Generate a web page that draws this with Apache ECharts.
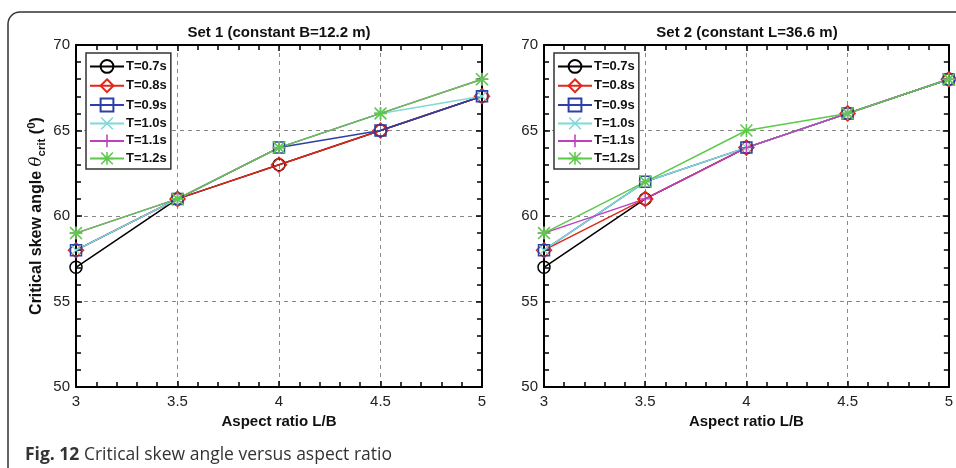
<!DOCTYPE html>
<html>
<head>
<meta charset="utf-8">
<script src="https://cdn.jsdelivr.net/npm/echarts@6/dist/echarts.min.js"></script>
<style>
  html, body { margin: 0; padding: 0; background: #fff; }
  #main { width: 956px; height: 468px; }
</style>
</head>
<body>
<div id="main"></div>
<script>
const aspect = [3, 3.5, 4, 4.5, 5];
const names = ["T=0.7s", "T=0.8s", "T=0.9s", "T=1.0s", "T=1.1s", "T=1.2s"];

// Set 1 (constant B=12.2 m)
const set1 = {
  "T=0.7s": [57, 61, 63, 65, 67],
  "T=0.8s": [58, 61, 63, 65, 67],
  "T=0.9s": [58, 61, 64, 65, 67],
  "T=1.0s": [58, 61, 64, 66, 67],
  "T=1.1s": [59, 61, 64, 66, 68],
  "T=1.2s": [59, 61, 64, 66, 68],
};
// Set 2 (constant L=36.6 m)
const set2 = {
  "T=0.7s": [57, 61, 64, 66, 68],
  "T=0.8s": [58, 61, 64, 66, 68],
  "T=0.9s": [58, 62, 64, 66, 68],
  "T=1.0s": [58, 62, 64, 66, 68],
  "T=1.1s": [59, 61, 64, 66, 68],
  "T=1.2s": [59, 62, 65, 66, 68],
};

const colors = ["#000000", "#e2261a", "#2e3fa6", "#7fd9d6", "#bf3fbf", "#5ec84c"];

// marker shapes (matlab style o, d, s, x, +, *)
const plusPath = "M8.8,0H11.2V8.8H20V11.2H11.2V20H8.8V11.2H0V8.8H8.8Z";
const crossPath = "M1.7,0L10,8.3L18.3,0L20,1.7L11.7,10L20,18.3L18.3,20L10,11.7L1.7,20L0,18.3L8.3,10L0,1.7Z";
const markers = [
  { symbol: "circle", size: 12, hollow: true },
  { symbol: "diamond", size: 15, hollow: true },
  { symbol: "rect", size: 11, hollow: true },
  { symbol: "path://" + crossPath, size: 10, hollow: false },
  { symbol: "path://" + plusPath, size: 12, hollow: false },
  { symbol: "path://" + plusPath + crossPath, size: 13, hollow: false },
];

const font = "Liberation Sans";

function makeSeries(set, gi) {
  return names.map((n, i) => {
    const m = markers[i];
    return {
      name: n,
      type: "line",
      xAxisIndex: gi * 2,
      yAxisIndex: gi * 2,
      data: aspect.map((x, k) => [x, set[n][k]]),
      symbol: m.symbol,
      symbolSize: m.size,
      showAllSymbol: true,
      lineStyle: { color: colors[i], width: 1.5 },
      itemStyle: m.hollow
        ? { color: "rgba(0,0,0,0)", borderColor: colors[i], borderWidth: 1.5 }
        : { color: colors[i], borderWidth: 0 },
      emphasis: { disabled: true },
      animation: false,
    };
  });
}

function mainX(gi) {
  return {
    type: "value", gridIndex: gi, min: 3, max: 5, interval: 0.5,
    position: "bottom",
    axisLine: { lineStyle: { color: "#000", width: 2 } },
    axisTick: { inside: true, length: 6, lineStyle: { color: "#000", width: 1.5 } },
    minorTick: { show: true, splitNumber: 5, length: 5, lineStyle: { color: "#000", width: 1.5 } },
    axisLabel: { color: "#222", fontSize: 15, fontFamily: font, margin: 7,
      formatter: v => String(v) },
    splitLine: { show: true, lineStyle: { color: "#888", type: [4, 4], width: 1 } },
    name: "Aspect ratio L/B",
    nameLocation: "middle",
    nameGap: 26,
    nameTextStyle: { fontFamily: font, fontWeight: "bold", fontSize: 15, color: "#111" },
  };
}
function mirrorX(gi) {
  return {
    type: "value", gridIndex: gi, min: 3, max: 5, interval: 0.5,
    position: "top",
    axisLine: { lineStyle: { color: "#000", width: 2 } },
    axisTick: { inside: true, length: 6, lineStyle: { color: "#000", width: 1.5 } },
    minorTick: { show: true, splitNumber: 5, length: 5, lineStyle: { color: "#000", width: 1.5 } },
    axisLabel: { show: false },
    splitLine: { show: false },
  };
}
function mainY(gi) {
  const ax = {
    type: "value", gridIndex: gi, min: 50, max: 70, interval: 5,
    position: "left",
    axisLine: { show: true, lineStyle: { color: "#000", width: 2 } },
    axisTick: { show: true, inside: true, length: 6, lineStyle: { color: "#000", width: 1.5 } },
    minorTick: { show: true, splitNumber: 5, length: 5, lineStyle: { color: "#000", width: 1.5 } },
    axisLabel: { color: "#222", fontSize: 15, fontFamily: font, margin: 6 },
    splitLine: { show: true, lineStyle: { color: "#888", type: [4, 4], width: 1 } },
  };
  if (gi === 0) {
    ax.name = "Critical skew angle {th|θ}{sub|crit} ({sup|0})";
    ax.nameLocation = "middle";
    ax.nameGap = 28;
    ax.nameTextStyle = {
      fontFamily: font, fontWeight: "bold", fontSize: 16, color: "#111", lineHeight: 22,
      rich: {
        th: { fontFamily: "DejaVu Serif", fontStyle: "italic", fontWeight: "normal", fontSize: 16.5, color: "#111", lineHeight: 22 },
        sub: { fontFamily: font, fontWeight: "bold", fontSize: 11.5, color: "#111", verticalAlign: "bottom", lineHeight: 15 },
        sup: { fontFamily: font, fontWeight: "bold", fontSize: 11.5, color: "#111", verticalAlign: "top", lineHeight: 15 },
      },
    };
  }
  return ax;
}
function mirrorY(gi) {
  return {
    type: "value", gridIndex: gi, min: 50, max: 70, interval: 5,
    position: "right",
    axisLine: { show: true, lineStyle: { color: "#000", width: 2 } },
    axisTick: { show: true, inside: true, length: 6, lineStyle: { color: "#000", width: 1.5 } },
    minorTick: { show: true, splitNumber: 5, length: 5, lineStyle: { color: "#000", width: 1.5 } },
    axisLabel: { show: false },
    splitLine: { show: false },
  };
}

function legendAt(left) {
  return {
    data: names,
    orient: "vertical",
    left: left,
    top: 53,
    backgroundColor: "#fff",
    borderColor: "#333",
    borderWidth: 1.5,
    borderRadius: 0,
    padding: [6, 4, 4, 3],
    itemGap: 4.5,
    itemWidth: 34,
    itemHeight: 16,
    selectedMode: false,
    textStyle: { fontFamily: font, fontWeight: "bold", fontSize: 13, color: "#111", padding: [0, 0, 0, -3] },
  };
}

const chart = echarts.init(document.getElementById("main"), null, { renderer: "canvas" });
chart.setOption({
  animation: false,
  backgroundColor: "#fff",
  title: [
    { text: "Set 1 (constant B=12.2 m)", left: 279, top: 25, textAlign: "center", padding: 0,
      textStyle: { fontFamily: font, fontWeight: "bold", fontSize: 15, color: "#111" } },
    { text: "Set 2 (constant L=36.6 m)", left: 747, top: 25, textAlign: "center", padding: 0,
      textStyle: { fontFamily: font, fontWeight: "bold", fontSize: 15, color: "#111" } },
  ],
  grid: [
    { left: 76, right: 474, top: 45, bottom: 81 },
    { left: 544, right: 6, top: 45, bottom: 81 },
  ],
  xAxis: [mainX(0), mirrorX(0), mainX(1), mirrorX(1)],
  yAxis: [mainY(0), mirrorY(0), mainY(1), mirrorY(1)],
  legend: [legendAt(86), legendAt(554)],
  series: [...makeSeries(set1, 0), ...makeSeries(set2, 1)],
  graphic: [
    { type: "rect", z: -10, silent: true,
      shape: { x: 8, y: 12, width: 1000, height: 600, r: 12 },
      style: { fill: "none", stroke: "#333", lineWidth: 1.5 } },
    { type: "text", left: 25, top: 446, silent: true,
      style: {
        text: "{b|Fig. 12} Critical skew angle versus aspect ratio",
        font: "17.5px 'Open Sans'", fill: "#333",
        rich: { b: { fontFamily: "Open Sans", fontWeight: "bold", fontSize: 17.5, fill: "#333" } },
      } },
  ],
});
</script>
</body>
</html>
